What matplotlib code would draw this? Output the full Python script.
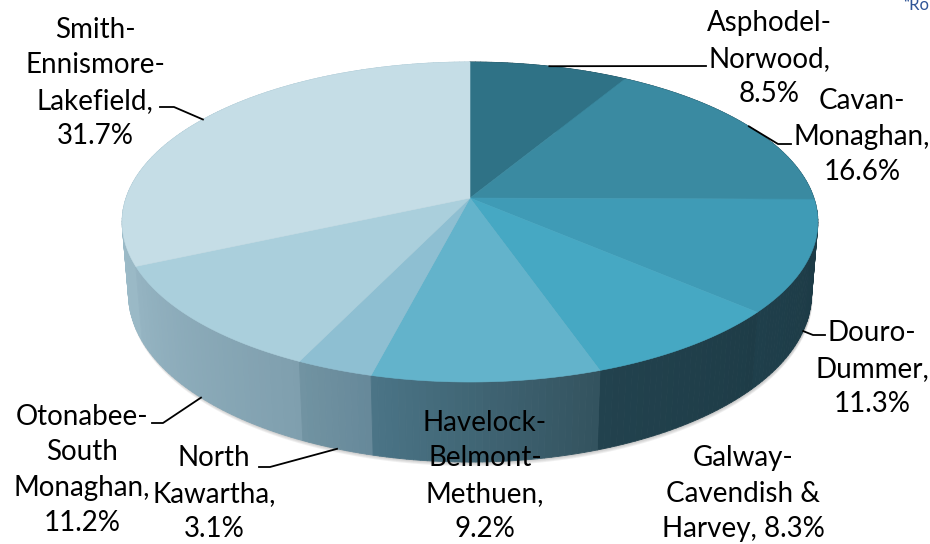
import numpy as np
import matplotlib.pyplot as plt
from matplotlib.collections import PolyCollection
from matplotlib.colors import to_rgb

# township shares of the total, clockwise from 12 o'clock
names = ["Asphodel-\nNorwood", "Cavan-\nMonaghan", "Douro-\nDummer",
         "Galway-\nCavendish &\nHarvey", "Havelock-\nBelmont-\nMethuen",
         "North\nKawartha", "Otonabee-\nSouth\nMonaghan",
         "Smith-\nEnnismore-\nLakefield"]
shares = [8.5, 16.6, 11.3, 8.3, 9.2, 3.1, 11.2, 31.7]
pct_sep = ["\n", "\n", "\n", " ", "\n", "\n", "\n", "\n"]

top_colors = ["#2f7286", "#3a8aa1", "#3f9bb6", "#46a8c3",
              "#63b3cb", "#8ebfd2", "#aacfdc", "#c5dde6"]
wall_left = ["#1f4654", "#1f4654", "#1f3f4b", "#22424e",
             "#4b7587", "#7193a2", "#95b4c2", "#a3c1ce"]
wall_right = ["#1c3b46", "#1c3b46", "#1c3944", "#1e3c47",
              "#33525e", "#66899a", "#7f9fae", "#9ab9c6"]

# label anchor (centre x, last baseline y) and leader elbows, in pixels
label_pos = [(769, 102), (862, 180), (872, 412), (743, 537),
             (485, 537), (214, 537), (82, 531), (95, 144)]
leaders = {0: [(706, 66)],
           1: [(778, 144), (791, 144)],
           2: [(813, 335), (825, 335)],
           5: [(270, 467), (259, 467)],
           6: [(163, 423), (152, 423)],
           7: [(174, 107), (160, 107)]}

# simple perspective camera for the 3d disc
CX, CY = 470, 198
PHI = np.radians(27.05)
DIST = 5.937
FOC = 2042
THICK = 0.2378


def project(theta, h):
    x = np.sin(theta)
    z = -np.cos(theta)
    s, c = np.sin(PHI), np.cos(PHI)
    yc = h * c - z * s
    d = DIST - (h * s + z * c)
    return CX + FOC * x / d, CY - FOC * yc / d


fig = plt.figure(figsize=(9.3, 5.44), dpi=100)
ax = fig.add_axes([0, 0, 1, 1])
ax.set_xlim(0, 930)
ax.set_ylim(544, 0)
ax.axis('off')

total = sum(shares)
bounds = np.concatenate([[0], np.cumsum(shares) / total * 2 * np.pi])

# soft shadow under the disc
th = np.linspace(0, 2 * np.pi, 400)
bx, by = project(th, -THICK)
for k in range(1, 5):
    ax.fill(bx + 1, by + k, color="#808080", alpha=0.12, lw=0)

# side wall as thin strips, far ones first
strips, strip_cols, strip_depth = [], [], []
for i in range(len(shares)):
    a, b = bounds[i], bounds[i + 1]
    n = max(2, int(np.degrees(b - a)))
    ts = np.linspace(a, b, n + 1)
    cl, cr = np.array(to_rgb(wall_left[i])), np.array(to_rgb(wall_right[i]))
    for j in range(n):
        t0, t1 = ts[j], ts[j + 1]
        x0, y0 = project(t0, 0)
        x1, y1 = project(t1, 0)
        x2, y2 = project(t1, -THICK)
        x3, y3 = project(t0, -THICK)
        strips.append([(x0, y0), (x1, y1), (x2, y2), (x3, y3)])
        f = ((t0 + t1) / 2 - a) / (b - a)
        strip_cols.append(cr * (1 - f) + cl * f)
        strip_depth.append(-np.cos((t0 + t1) / 2))
order = np.argsort(strip_depth)
ax.add_collection(PolyCollection([strips[k] for k in order],
                                 facecolors=[strip_cols[k] for k in order],
                                 edgecolors=[strip_cols[k] for k in order],
                                 linewidths=0.6))

# top face
for i in range(len(shares)):
    ts = np.linspace(bounds[i], bounds[i + 1], 80)
    px, py = project(ts, 0)
    px = np.concatenate([[CX], px])
    py = np.concatenate([[CY], py])
    ax.fill(px, py, color=top_colors[i], lw=0.4, ec=top_colors[i])

# labels and leader lines
for i in range(len(shares)):
    txt = f"{names[i]},{pct_sep[i]}{shares[i]:.1f}%"
    ax.text(label_pos[i][0], label_pos[i][1], txt, ha='center', va='baseline',
            fontsize=20, family='Lato', linespacing=1.45, color='black')
    if i in leaders:
        mid = (bounds[i] + bounds[i + 1]) / 2
        h = -THICK if np.cos(mid) < 0 else 0
        sx, sy = project(mid, h)
        pts = [(sx, sy)] + leaders[i]
        ax.plot([p[0] for p in pts], [p[1] for p in pts], color='black', lw=1.3)

ax.text(903, 10, "\u201cRo", ha='left', va='baseline', fontsize=12,
        family='Lato', color='#2f5597')

fig.savefig("out.png", dpi=100)
